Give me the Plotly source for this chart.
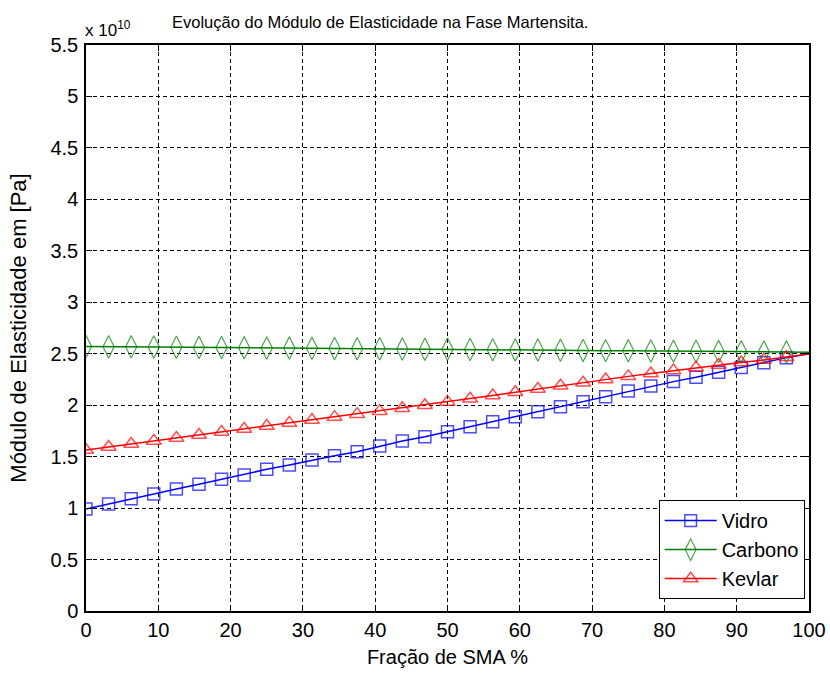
import plotly.graph_objects as go

# Fração de SMA (%) at each plotted point (markers on all but the last point)
fracao_sma = [0, 3.125, 6.25, 9.375, 12.5, 15.625, 18.75, 21.875, 25, 28.125,
              31.25, 34.375, 37.5, 40.625, 43.75, 46.875, 50, 53.125, 56.25, 59.375,
              62.5, 65.625, 68.75, 71.875, 75, 78.125, 81.25, 84.375, 87.5, 90.625,
              93.75, 96.875, 100]

# Módulo de elasticidade, in units of 1e10 Pa
vidro = [0.99, 1.04, 1.09, 1.137, 1.186, 1.231, 1.28, 1.322, 1.377, 1.419,
         1.467, 1.509, 1.548, 1.603, 1.652, 1.694, 1.743, 1.791, 1.840, 1.888,
         1.937, 1.985, 2.034, 2.083, 2.138, 2.187, 2.229, 2.271, 2.320, 2.365,
         2.413, 2.462, 2.50]
carbono = [2.570, 2.568, 2.567, 2.565, 2.563, 2.561, 2.560, 2.558, 2.556, 2.555,
           2.553, 2.551, 2.549, 2.548, 2.546, 2.544, 2.543, 2.541, 2.539, 2.537,
           2.536, 2.534, 2.532, 2.530, 2.529, 2.527, 2.525, 2.524, 2.522, 2.520,
           2.518, 2.517, 2.515]
kevlar = [1.565, 1.594, 1.623, 1.652, 1.681, 1.710, 1.739, 1.768, 1.797, 1.826,
          1.855, 1.884, 1.913, 1.942, 1.971, 2.000, 2.032, 2.063, 2.094, 2.125,
          2.157, 2.188, 2.218, 2.249, 2.280, 2.308, 2.336, 2.363, 2.390, 2.415,
          2.440, 2.466, 2.497]

x_ticks = [0, 10, 20, 30, 40, 50, 60, 70, 80, 90, 100]
y_ticks = [0, 0.5, 1, 1.5, 2, 2.5, 3, 3.5, 4, 4.5, 5, 5.5]
y_tick_text = ["0", "0.5", "1", "1.5", "2", "2.5", "3", "3.5", "4", "4.5", "5", "5.5"]

FONT = "Liberation Sans, Arial, sans-serif"
n = len(fracao_sma)

def sizes(s):
    return [s] * (n - 1) + [0]

fig = go.Figure()
fig.add_trace(go.Scatter(
    x=fracao_sma, y=vidro, name="Vidro", mode="lines+markers",
    line=dict(color="rgb(0,0,255)", width=1.5),
    marker=dict(symbol="square-open", size=sizes(12), color="rgb(0,0,255)",
                line=dict(width=1.5, color="rgb(0,0,255)")),
))
fig.add_trace(go.Scatter(
    x=fracao_sma, y=carbono, name="Carbono", mode="lines+markers",
    line=dict(color="rgb(0,128,0)", width=1.5),
    marker=dict(symbol="diamond-tall-open", size=sizes(16), color="rgb(0,128,0)",
                line=dict(width=1.2, color="rgb(0,128,0)")),
))
fig.add_trace(go.Scatter(
    x=fracao_sma, y=kevlar, name="Kevlar", mode="lines+markers",
    line=dict(color="rgb(255,0,0)", width=1.5),
    marker=dict(symbol="triangle-up-open", size=sizes(13), color="rgb(255,0,0)",
                line=dict(width=1.5, color="rgb(255,0,0)")),
))

axis_common = dict(
    showline=True, linecolor="black", linewidth=1.5, mirror="ticks",
    ticks="inside", ticklen=6, tickcolor="black", tickwidth=1,
    showgrid=True, gridcolor="black", gridwidth=1, griddash="4px,3px",
    zeroline=False, automargin=False,
    tickfont=dict(family=FONT, size=20, color="black"),
)

fig.update_layout(
    width=830, height=674,
    margin=dict(l=86, r=21, t=45, b=63),
    paper_bgcolor="white", plot_bgcolor="white",
    font=dict(family=FONT, color="black"),
    showlegend=True,
    legend=dict(x=0.994, y=0.021, xanchor="right", yanchor="bottom",
                bgcolor="white", bordercolor="black", borderwidth=1,
                font=dict(family=FONT, size=20, color="black"),
                itemwidth=52, tracegroupgap=0),
    xaxis=dict(range=[0, 100], tickvals=x_ticks,
               title=dict(text="Fração de SMA %", font=dict(family=FONT, size=20), standoff=10),
               **axis_common),
    yaxis=dict(range=[0, 5.5], tickvals=y_ticks, ticktext=y_tick_text,
               ticklabelstandoff=2,
               title=dict(text="Módulo de Elasticidade em [Pa]", font=dict(family=FONT, size=22), standoff=18),
               **axis_common),
    annotations=[
        dict(text="Evolução do Módulo de Elasticidade na Fase Martensita.",
             xref="paper", yref="paper", x=0.4066, y=1.0406,
             xanchor="center", yanchor="middle", showarrow=False,
             font=dict(family=FONT, size=16.5, color="black")),
        dict(text="x 10<sup>10</sup>",
             xref="paper", yref="paper", x=-0.004, y=1.028,
             xanchor="left", yanchor="middle", showarrow=False,
             font=dict(family=FONT, size=17, color="black")),
    ],
)

fig.write_html("out.html", config={"displayModeBar": False},
               post_script="document.body.style.margin='0';")
